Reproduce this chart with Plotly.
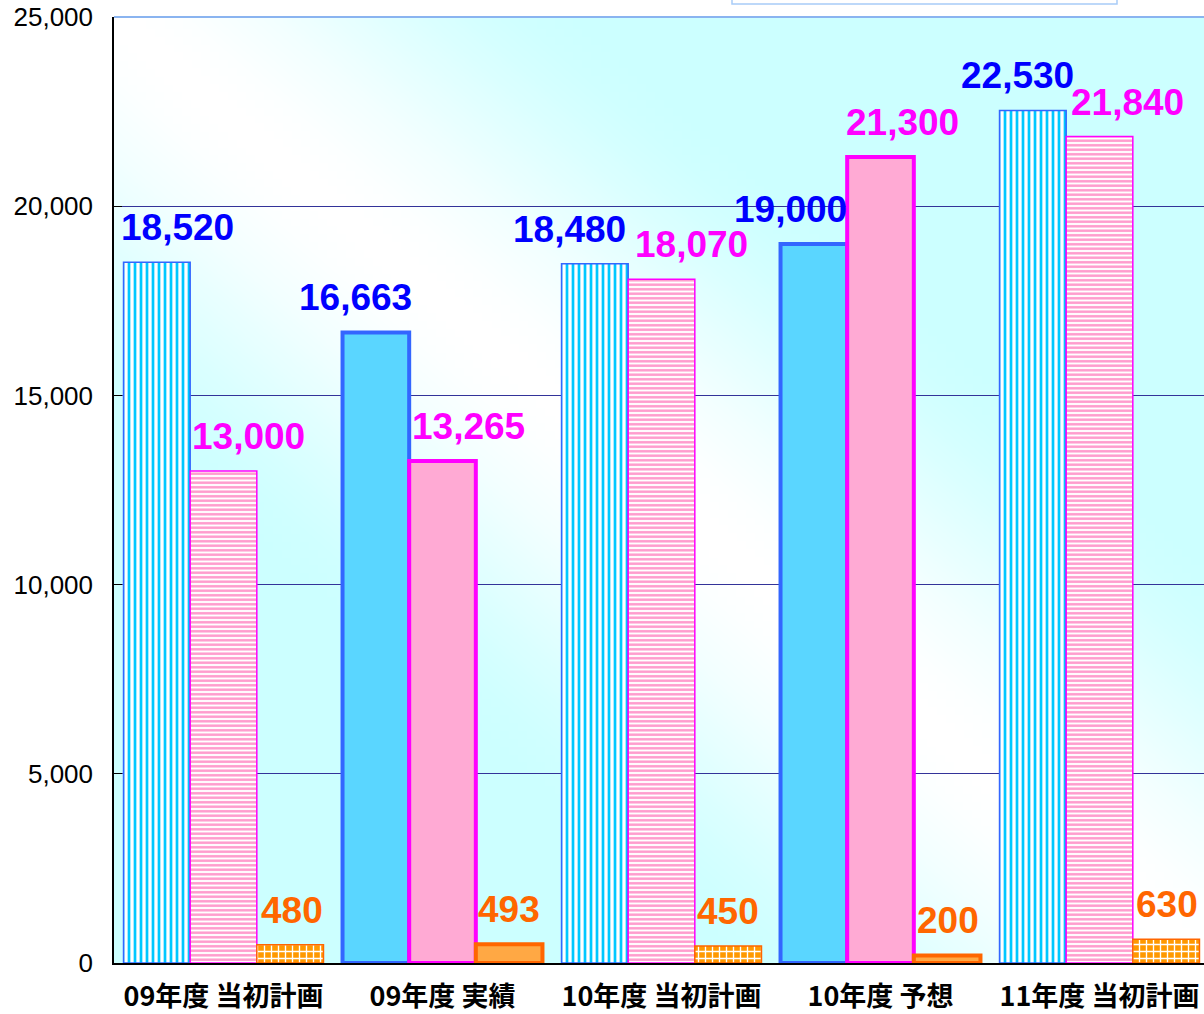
import zlib
import struct
import base64
import plotly.graph_objects as go

# ---------------- data ----------------
categories = ["09年度 当初計画", "09年度 実績", "10年度 当初計画", "10年度 予想", "11年度 当初計画"]
series_a = [18520, 16663, 18480, 19000, 22530]   # blue
series_b = [13000, 13265, 18070, 21300, 21840]   # pink
series_c = [480, 493, 450, 200, 630]             # orange
series_names = ["系列1", "系列2", "系列3"]
y_ticks = [0, 5000, 10000, 15000, 20000, 25000]

# ---------------- styles ----------------
is_plan = ["計画" in c for c in categories]
BARGAP = 0.087
N_SERIES = 3
bar_w = (1 - BARGAP) / N_SERIES

styles = [
    dict(line="#3366ff", solid="#5ad6ff", fg="#00c8ff", bg="#ffffff", shape="|",
         size=6, solidity=0.45, label="#0000ff"),
    dict(line="#ff00ff", solid="#ffaad4", fg="#ff99cc", bg="#ffffff", shape="-",
         size=4.5, solidity=0.55, label="#ff00ff"),
    dict(line="#ff6600", solid="#ffa844", fg="#ffffff", bg="#ff9900", shape="+",
         size=7, solidity=0.35, label="#ff6600"),
]
# horizontal pixel nudges of the value labels (per series, per category)
label_xshift = [
    [21, -20, -25, -23, -15],
    [25, 26, 30, 22, 28],
    [2, 0, 0, 1, 1],
]


def png_data_uri(w, h, fn):
    raw = bytearray()
    for j in range(h):
        raw.append(0)
        for i in range(w):
            raw += bytes(fn(i / (w - 1), j / (h - 1)))

    def chunk(tag, data):
        c = struct.pack(">I", len(data)) + tag + data
        return c + struct.pack(">I", zlib.crc32(tag + data) & 0xFFFFFFFF)

    png = (b"\x89PNG\r\n\x1a\n"
           + chunk(b"IHDR", struct.pack(">IIBBBBB", w, h, 8, 2, 0, 0, 0))
           + chunk(b"IDAT", zlib.compress(bytes(raw), 9))
           + chunk(b"IEND", b""))
    return "data:image/png;base64," + base64.b64encode(png).decode()


def bg_pixel(u, v):
    t = min(1.0, abs(u - v) / 0.45)
    t = t * t * (3 - 2 * t)
    c0 = (255, 255, 255)
    c1 = (204, 255, 255)
    return tuple(int(round(a + (b - a) * t)) for a, b in zip(c0, c1))


fig = go.Figure()
all_series = [series_a, series_b, series_c]
for k, (vals, st) in enumerate(zip(all_series, styles)):
    plan_x = [c for c, p in zip(categories, is_plan) if p]
    plan_y = [v for v, p in zip(vals, is_plan) if p]
    act_x = [c for c, p in zip(categories, is_plan) if not p]
    act_y = [v for v, p in zip(vals, is_plan) if not p]
    # planned values: patterned bars
    fig.add_trace(go.Bar(
        x=plan_x, y=plan_y, name=series_names[k], offsetgroup=str(k),
        marker=dict(
            color=st["bg"],
            line=dict(color=st["line"], width=1.5),
            pattern=dict(shape=st["shape"], fgcolor=st["fg"], bgcolor=st["bg"],
                         size=st["size"], solidity=st["solidity"],
                         fillmode="replace", fgopacity=1),
        ),
        showlegend=False, hoverinfo="skip",
    ))
    # actual / forecast values: solid bars with thick borders
    fig.add_trace(go.Bar(
        x=act_x, y=act_y, name=series_names[k], offsetgroup=str(k),
        marker=dict(color=st["solid"], line=dict(color=st["line"], width=4)),
        showlegend=False, hoverinfo="skip",
    ))

# value labels
annotations = []
for k, (vals, st) in enumerate(zip(all_series, styles)):
    offset = (k - (N_SERIES - 1) / 2) * bar_w
    for i, v in enumerate(vals):
        annotations.append(dict(
            x=i + offset, y=v, xref="x", yref="y",
            text=f"{v:,}", showarrow=False,
            xanchor="center", yanchor="bottom",
            xshift=label_xshift[k][i], yshift=12,
            font=dict(family="Liberation Sans, Arial, sans-serif", size=37,
                      color=st["label"], weight="bold"),
        ))

plot_left, plot_right = 114, 1204
cat_px = 219
x_max = -0.5 + (plot_right - plot_left) / cat_px

fig.update_layout(
    width=1204, height=1014,
    margin=dict(l=114, r=0, t=17, b=51, pad=0, autoexpand=False),
    paper_bgcolor="white",
    plot_bgcolor="rgba(0,0,0,0)",
    barmode="group",
    bargap=BARGAP,
    bargroupgap=0,
    showlegend=False,
    annotations=annotations,
    images=[dict(
        source=png_data_uri(120, 120, bg_pixel),
        xref="paper", yref="paper", x=0, y=1, sizex=1, sizey=1,
        xanchor="left", yanchor="top", sizing="stretch", layer="below",
    )],
    shapes=[
        dict(type="line", xref="paper", yref="paper", x0=0, x1=1, y0=1, y1=1,
             line=dict(color="#8ab4f0", width=2), layer="above"),
        dict(type="rect", xref="paper", yref="paper",
             x0=(732 - plot_left) / (plot_right - plot_left),
             x1=(1117 - plot_left) / (plot_right - plot_left),
             y0=1 + 13 / 946, y1=1.2,
             fillcolor="white", line=dict(color="#a8ccf8", width=1.5)),
    ],
    xaxis=dict(
        type="category",
        categoryorder="array", categoryarray=categories,
        range=[-0.5, x_max],
        automargin=False,
        showline=True, linecolor="black", linewidth=2,
        ticks="", showgrid=False,
        tickfont=dict(family="Noto Sans CJK JP", size=27, color="black", weight="bold"),
        ticklabelstandoff=9,
    ),
    yaxis=dict(
        range=[0, 25000],
        automargin=False,
        tickvals=y_ticks,
        tickformat=",d",
        showgrid=True, gridcolor="#333399", gridwidth=1,
        showline=True, linecolor="black", linewidth=1.5,
        ticks="inside", ticklen=8, tickcolor="black",
        zeroline=False,
        tickfont=dict(family="Liberation Sans, Arial, sans-serif", size=26, color="black"),
        ticklabelstandoff=14,
    ),
)

fig.write_html("out.html", config={"displayModeBar": False},
               post_script="document.body.style.margin='0px';")
